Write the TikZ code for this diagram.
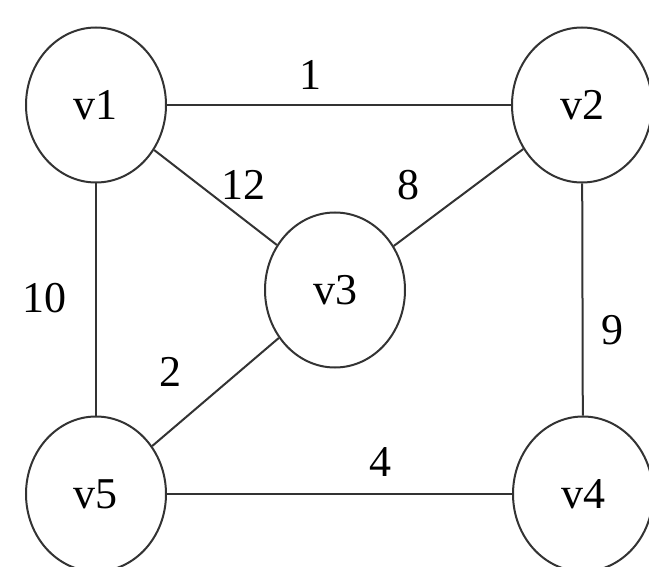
\documentclass[tikz,border=0pt]{standalone}
\usepackage{fontspec}
\setmainfont{Liberation Serif}
\usetikzlibrary{shapes.geometric}
\begin{document}
\begin{tikzpicture}[x=1pt,y=-1pt,
  vert/.style={ellipse,draw=black!80,line width=2pt,minimum width=140pt,minimum height=155pt,inner sep=0pt,font=\fontsize{44}{48}\selectfont},
  edge/.style={draw=black!80,line width=2pt},
  wlabel/.style={font=\fontsize{44}{48}\selectfont,inner sep=0pt}]
\useasboundingbox (0,0) rectangle (649,567);
\node[vert] (v1) at (96,105) {v1};
\node[vert] (v2) at (582,105) {v2};
\node[vert] (v3) at (335,290) {v3};
\node[vert] (v5) at (96,494) {v5};
\node[vert] (v4) at (583,494) {v4};
\draw[edge] (v1) -- (v2);
\draw[edge] (v1) -- (v3);
\draw[edge] (v2) -- (v3);
\draw[edge] (v1) -- (v5);
\draw[edge] (v5) -- (v3);
\draw[edge] (v2) -- (v4);
\draw[edge] (v5) -- (v4);
\node[wlabel] (l1) at (310,75) {1};
\node[wlabel] (l12) at (243,185) {12};
\node[wlabel] (l8) at (408,185) {8};
\node[wlabel] (l10) at (45,298) {10};
\node[wlabel] (l2) at (170,372) {2};
\node[wlabel] (l9) at (612,330) {9};
\node[wlabel] (l4) at (380,462) {4};
\end{tikzpicture}
\end{document}
